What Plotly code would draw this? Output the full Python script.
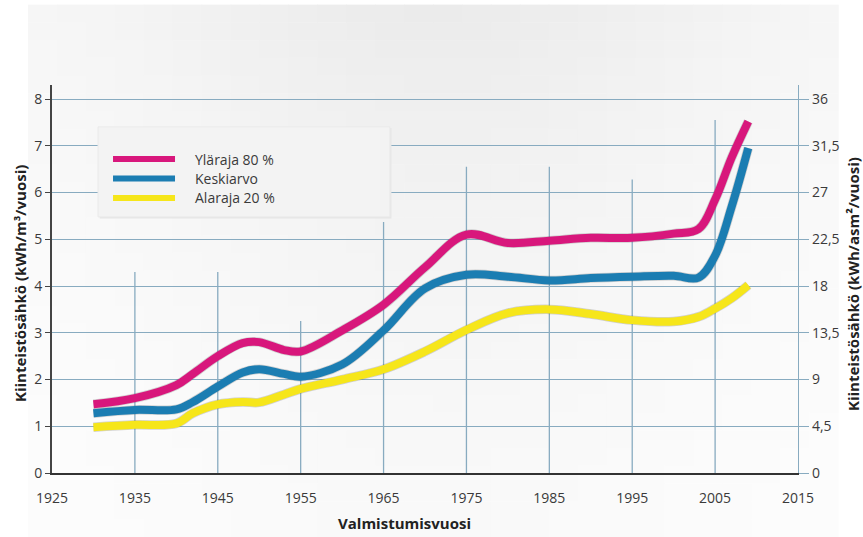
import math

import plotly.graph_objects as go

# Data
years = [1930, 1935, 1940, 1942, 1945, 1948, 1950, 1953, 1955, 1960, 1965,
         1970, 1975, 1980, 1985, 1990, 1995, 2000, 2003, 2005, 2007, 2009]
upper_80 = [1.47, 1.6, 1.88, 2.12, 2.5, 2.78, 2.8, 2.63, 2.6, 3.05, 3.6,
            4.4, 5.1, 4.92, 4.97, 5.03, 5.03, 5.12, 5.22, 5.85, 6.75, 7.52]
mean_val = [1.28, 1.35, 1.36, 1.52, 1.85, 2.15, 2.22, 2.12, 2.06, 2.32, 3.05,
            3.95, 4.24, 4.2, 4.12, 4.17, 4.2, 4.22, 4.18, 4.65, 5.7, 6.95]
lower_20 = [0.98, 1.03, 1.06, 1.28, 1.47, 1.52, 1.51, 1.68, 1.8, 2.0, 2.22,
            2.6, 3.06, 3.42, 3.5, 3.4, 3.27, 3.24, 3.34, 3.52, 3.74, 4.02]

series_names = ["Yläraja 80 %", "Keskiarvo", "Alaraja 20 %"]
series_colors = ["#d8177c", "#1b7db2", "#f6e61a"]

x_ticks = [1925, 1935, 1945, 1955, 1965, 1975, 1985, 1995, 2005, 2015]
left_ticks = [0, 1, 2, 3, 4, 5, 6, 7, 8]
right_ticks = [0, 4.5, 9, 13.5, 18, 22.5, 27, 31.5, 36]
right_labels = ["0", "4,5", "9", "13,5", "18", "22,5", "27", "31,5", "36"]

# uneven heights of the vertical grid lines, as drawn in the original
grid_years = [1935, 1945, 1955, 1965, 1975, 1985, 1995, 2005]
grid_tops = [4.3, 4.3, 3.25, 5.37, 6.55, 6.55, 6.28, 7.55]

GRID = "#88abc0"
TEXT = "#3a3a3a"
FONT = "Open Sans"
Y_TOP = 8.3

fig = go.Figure()

# soft grey backdrop fading to white
W, H = 863, 537
L, R, T, B = 52, 65, 85, 64
pw, ph = W - L - R, H - T - B
ncol, nrow = 28, 30
x0px, x1px, y0px, y1px = 28, 838, 5, 537
for i in range(ncol):
    for j in range(nrow):
        ax = x0px + (x1px - x0px) * i / ncol
        bx = x0px + (x1px - x0px) * (i + 1) / ncol
        ay = y0px + (y1px - y0px) * j / nrow
        by = y0px + (y1px - y0px) * (j + 1) / nrow
        cx = (ax + bx) / 2
        cy = (ay + by) / 2
        hx = 0.35 + 0.65 * math.exp(-((cx - 440) / 300) ** 2)
        t = 1 - (cy - y0px) / (y1px - y0px)
        g = int(round(255 - 20 * hx * (0.3 + 0.7 * t ** 1.6)))
        fig.add_shape(
            type="rect", xref="paper", yref="paper", layer="below",
            x0=(ax - L) / pw, x1=(bx - L) / pw + 0.001,
            y0=(H - B - by) / ph, y1=(H - B - ay) / ph + 0.001,
            line_width=0, fillcolor=f"rgb({g},{g},{g})",
        )

for xv, top in zip(grid_years, grid_tops):
    fig.add_shape(
        type="line", xref="x", yref="y", layer="between",
        x0=xv, x1=xv, y0=0, y1=top,
        line={"color": GRID, "width": 1.3},
    )

# legend box drawn by hand
fig.add_shape(type="rect", xref="paper", yref="paper", layer="above",
              x0=0.064, x1=0.455, y0=0.656, y1=0.889,
              line_width=0, fillcolor="#e6e6e6")
fig.add_shape(type="rect", xref="paper", yref="paper", layer="above",
              x0=0.0617, x1=0.453, y0=0.66, y1=0.892,
              line={"color": "#eaeaea", "width": 1}, fillcolor="#f3f3f3")
legend_rows = [0.809, 0.759, 0.709]
for name, color, ly in zip(series_names, series_colors, legend_rows):
    fig.add_shape(type="line", xref="paper", yref="paper", layer="above",
                  x0=0.0818, x1=0.1649, y0=ly, y1=ly,
                  line={"color": color, "width": 6})
    fig.add_annotation(text=name, xref="paper", yref="paper",
                       x=0.189, y=ly, xanchor="left", yanchor="middle",
                       showarrow=False, font={"size": 14, "color": TEXT})

for name, color, values in zip(series_names, series_colors,
                               [upper_80, mean_val, lower_20]):
    fig.add_trace(go.Scatter(
        x=years, y=values, mode="lines", showlegend=False, hoverinfo="skip",
        line={"color": "rgba(70,70,70,0.22)", "width": 9.5, "shape": "spline"},
    ))
    fig.add_trace(go.Scatter(
        x=years, y=values, mode="lines", name=name, showlegend=False,
        line={"color": color, "width": 8, "shape": "spline"},
    ))

fig.add_trace(go.Scatter(x=[], y=[], yaxis="y2", showlegend=False))

tick_font = {"size": 14, "color": TEXT}
fig.update_layout(
    width=W, height=H,
    margin={"l": L, "r": R, "t": T, "b": B},
    paper_bgcolor="white",
    plot_bgcolor="rgba(0,0,0,0)",
    font={"family": FONT, "size": 13, "color": TEXT},
    xaxis={
        "range": [1925, 2015], "tickvals": x_ticks, "showgrid": False,
        "zeroline": False, "showline": True, "linecolor": "#333333",
        "linewidth": 2, "ticks": "", "ticklabelstandoff": 11,
        "tickfont": tick_font,
    },
    yaxis={
        "range": [0, Y_TOP], "tickvals": left_ticks, "showgrid": True,
        "gridcolor": GRID, "gridwidth": 1.2, "zeroline": False,
        "showline": True, "linecolor": "#444444", "linewidth": 2,
        "ticks": "outside", "ticklen": 5, "tickcolor": "#444444",
        "tickfont": tick_font,
    },
    yaxis2={
        "range": [0, Y_TOP * 4.5], "overlaying": "y", "side": "right",
        "tickvals": right_ticks, "ticktext": right_labels, "showgrid": False,
        "zeroline": False, "showline": True, "linecolor": GRID,
        "linewidth": 1.3, "ticks": "outside", "ticklen": 10,
        "tickcolor": GRID, "tickfont": tick_font,
    },
)

title_font = {"family": FONT, "size": 15, "color": "#222222", "weight": "bold"}
fig.add_annotation(text="Kiinteistösähkö (kWh/m³/vuosi)", xref="paper", yref="paper",
                   x=(20 - L) / pw, y=0.487, textangle=-90, showarrow=False,
                   xanchor="center", yanchor="middle", font=title_font)
fig.add_annotation(text="Kiinteistösähkö (kWh/asm²/vuosi)", xref="paper", yref="paper",
                   x=(853 - L) / pw, y=0.487, textangle=-90, showarrow=False,
                   xanchor="center", yanchor="middle", font=title_font)
fig.add_annotation(text="Valmistumisvuosi", xref="paper", yref="paper",
                   x=(404 - L) / pw, y=-(523 - (H - B)) / ph, showarrow=False,
                   xanchor="center", yanchor="middle", font=title_font)

fig.write_html(
    "out.html",
    config={"displayModeBar": False},
    post_script="document.body.style.margin = '0';",
)
